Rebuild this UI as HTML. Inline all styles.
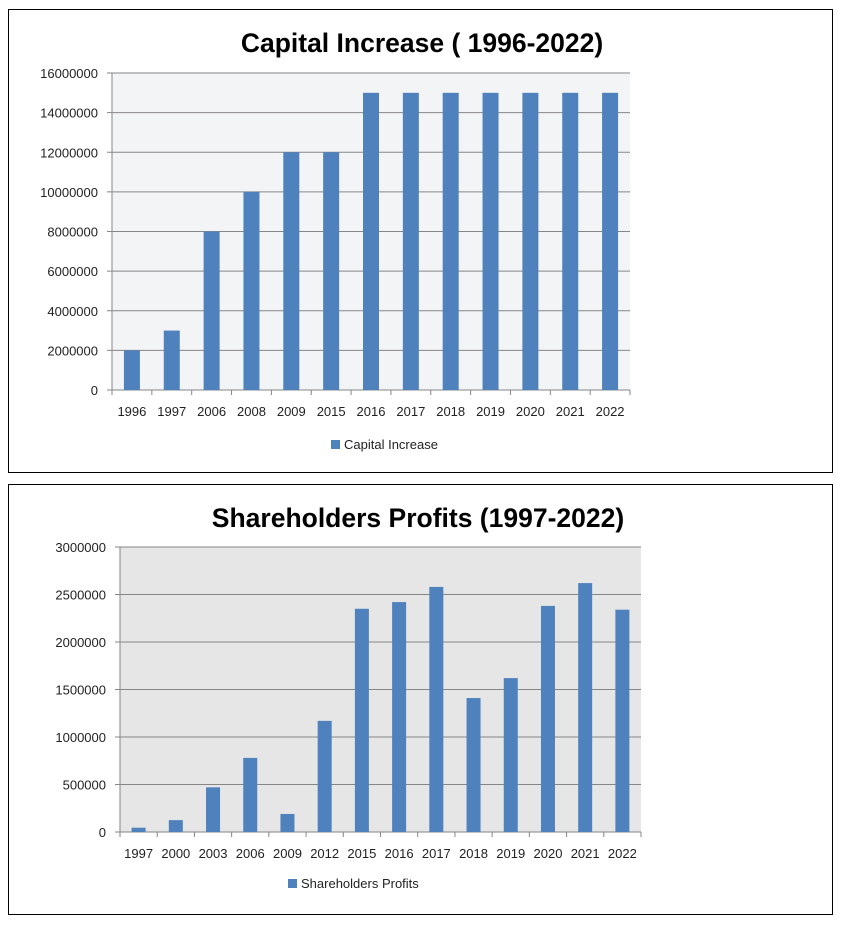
<!DOCTYPE html>
<html><head><meta charset="utf-8"><style>
html,body{margin:0;padding:0;background:#fff;}
svg{display:block;font-family:"Liberation Sans",sans-serif;}
</style></head><body>
<svg width="844" height="926" xmlns="http://www.w3.org/2000/svg">
<rect width="844" height="926" fill="#fff"/>
<rect x="8.5" y="9.5" width="824" height="463" fill="#fff" stroke="#000" stroke-width="1"/>
<rect x="8.5" y="484.5" width="824" height="430" fill="#fff" stroke="#000" stroke-width="1"/>
<g id="c1"></g>
<g id="c2"></g>
<text x="422" y="52" text-anchor="middle" font-size="26.5" font-weight="bold" fill="#000">Capital Increase ( 1996-2022)</text>
<text x="418" y="527" text-anchor="middle" font-size="26.5" font-weight="bold" fill="#000">Shareholders Profits (1997-2022)</text>
<rect x="331" y="440" width="9" height="9" fill="#4f81bd"/>
<text x="344" y="449" font-size="13" fill="#222">Capital Increase</text>
<rect x="288" y="879" width="9" height="9" fill="#4f81bd"/>
<text x="301" y="888" font-size="13" fill="#222">Shareholders Profits</text>
</svg>
<script>
var NS="http://www.w3.org/2000/svg";
function el(p,t,a,txt){var e=document.createElementNS(NS,t);for(var k in a)e.setAttribute(k,a[k]);if(txt!==undefined)e.textContent=txt;p.appendChild(e);return e;}
function chart(g,o){
 el(g,"rect",{x:o.x0,y:o.yt,width:o.x1-o.x0,height:o.yb-o.yt,fill:o.bg});
 var n=o.ticks.length-1;
 for(var i=0;i<=n;i++){var y=o.yb-(o.yb-o.yt)*i/n;
  el(g,"line",{x1:o.x0-5,x2:o.x1,y1:y,y2:y,stroke:"#868686","stroke-width":1});
  el(g,"text",{x:o.x0-14,y:y+5,"text-anchor":"end","font-size":13,fill:"#222"},o.ticks[i]);}
 el(g,"line",{x1:o.x0,x2:o.x0,y1:o.yt,y2:o.yb,stroke:"#868686"});
 var m=o.cats.length,w=(o.x1-o.x0)/m;
 for(var j=0;j<m;j++){var c=o.x0+w*(j+.5);var h=o.vals[j]/o.max*(o.yb-o.yt);
  el(g,"rect",{x:c-o.bw/2,y:o.yb-h,width:o.bw,height:h,fill:"#4f81bd"});
  el(g,"text",{x:c,y:o.yb+26,"text-anchor":"middle","font-size":13,fill:"#222"},o.cats[j]);}
 for(var j=0;j<=m;j++){var x=o.x0+w*j;el(g,"line",{x1:x,x2:x,y1:o.yb,y2:o.yb+5,stroke:"#868686"});}
}
chart(document.getElementById("c1"),{x0:112,x1:630,yt:73,yb:390,bg:"#f3f4f6",bw:16,max:16e6,
 ticks:["0","2000000","4000000","6000000","8000000","10000000","12000000","14000000","16000000"],
 cats:["1996","1997","2006","2008","2009","2015","2016","2017","2018","2019","2020","2021","2022"],
 vals:[2e6,3e6,8e6,10e6,12e6,12e6,15e6,15e6,15e6,15e6,15e6,15e6,15e6]});
chart(document.getElementById("c2"),{x0:120,x1:641,yt:547,yb:832,bg:"#e6e6e6",bw:14,max:3e6,
 ticks:["0","500000","1000000","1500000","2000000","2500000","3000000"],
 cats:["1997","2000","2003","2006","2009","2012","2015","2016","2017","2018","2019","2020","2021","2022"],
 vals:[45000,125000,470000,780000,190000,1170000,2350000,2420000,2580000,1410000,1620000,2380000,2620000,2340000]});
</script>
</body></html>
